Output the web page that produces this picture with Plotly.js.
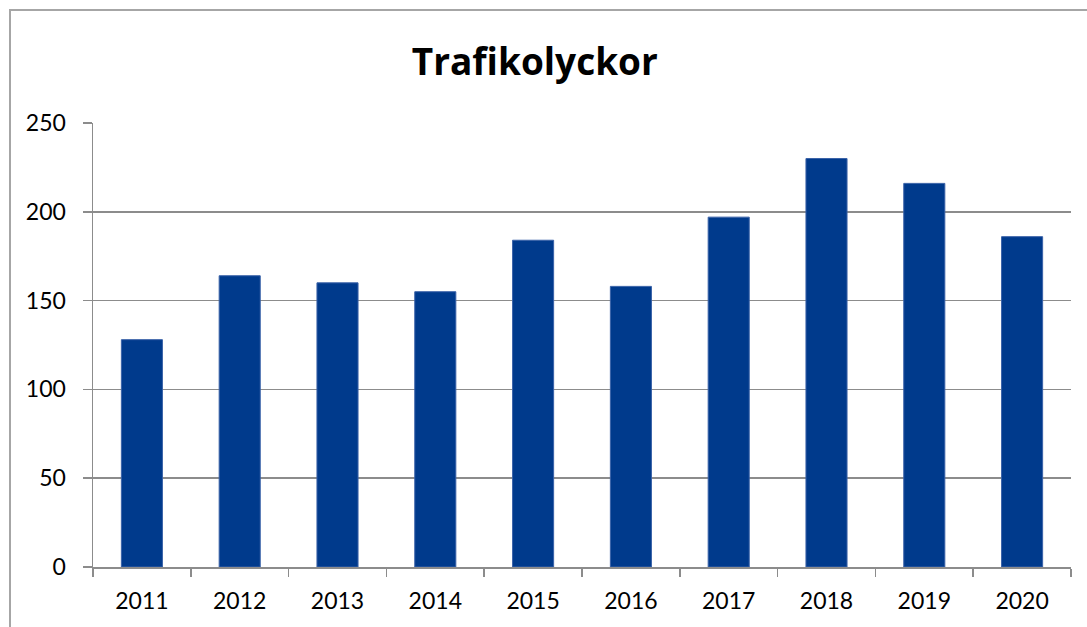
<!DOCTYPE html>
<html>
<head>
<meta charset="utf-8">
<script src="https://cdn.plot.ly/plotly-3.0.1.min.js"></script>
<style>
  html, body { margin: 0; padding: 0; background: #ffffff; }
  #chart { width: 1087px; height: 627px; }
</style>
</head>
<body>
<div id="chart"></div>
<script>
const years = ['2011', '2012', '2013', '2014', '2015', '2016', '2017', '2018', '2019', '2020'];
const accidents = [128, 164, 160, 155, 184, 158, 197, 230, 216, 186];
const yTicks = [0, 50, 100, 150, 200, 250];
const chartTitle = 'Trafikolyckor';

const trace = {
  type: 'bar',
  x: years,
  y: accidents,
  marker: { color: '#003a8c', line: { color: '#3a62a8', width: 1 } },
  hoverinfo: 'x+y'
};

const layout = {
  width: 1087,
  height: 627,
  paper_bgcolor: '#ffffff',
  plot_bgcolor: '#ffffff',
  margin: { l: 93, r: 16, t: 123, b: 60, pad: 0 },
  bargap: 0.58,
  showlegend: false,
  font: { family: 'Lato, "Open Sans", sans-serif', color: '#000000', size: 23 },
  title: {
    text: '<b>' + chartTitle + '</b>',
    font: { family: '"Open Sans", Lato, sans-serif', size: 37, color: '#000000' },
    xref: 'container', yref: 'container',
    x: 0.492, y: 1 - 62 / 627,
    xanchor: 'center', yanchor: 'middle'
  },
  xaxis: {
    type: 'category',
    tickson: 'boundaries',
    ticks: 'outside',
    ticklen: 8,
    tickwidth: 1.5,
    tickcolor: '#8c8c8c',
    showline: true,
    linecolor: '#8c8c8c',
    linewidth: 1.5,
    showgrid: false,
    zeroline: false,
    ticklabelstandoff: 13,
    tickfont: { size: 23, color: '#000000' }
  },
  yaxis: {
    range: [0, 250],
    tickvals: yTicks,
    ticktext: yTicks.map(String),
    ticks: 'outside',
    ticklen: 9,
    tickwidth: 1.5,
    tickcolor: '#8c8c8c',
    showline: true,
    linecolor: '#8c8c8c',
    linewidth: 1.5,
    showgrid: true,
    gridcolor: '#8c8c8c',
    gridwidth: 1.5,
    zeroline: false,
    ticklabelstandoff: 12,
    tickfont: { size: 23, color: '#000000' }
  },
  shapes: [{
    type: 'rect', xref: 'paper', yref: 'paper',
    x0: (10 - 93) / 978, x1: 2,
    y0: -1, y1: (567 - 10) / 444,
    line: { color: '#a6a6a6', width: 2 },
    fillcolor: 'rgba(0,0,0,0)',
    layer: 'below'
  }]
};

Plotly.newPlot('chart', [trace], layout, { displayModeBar: false, staticPlot: true });
</script>
</body>
</html>
